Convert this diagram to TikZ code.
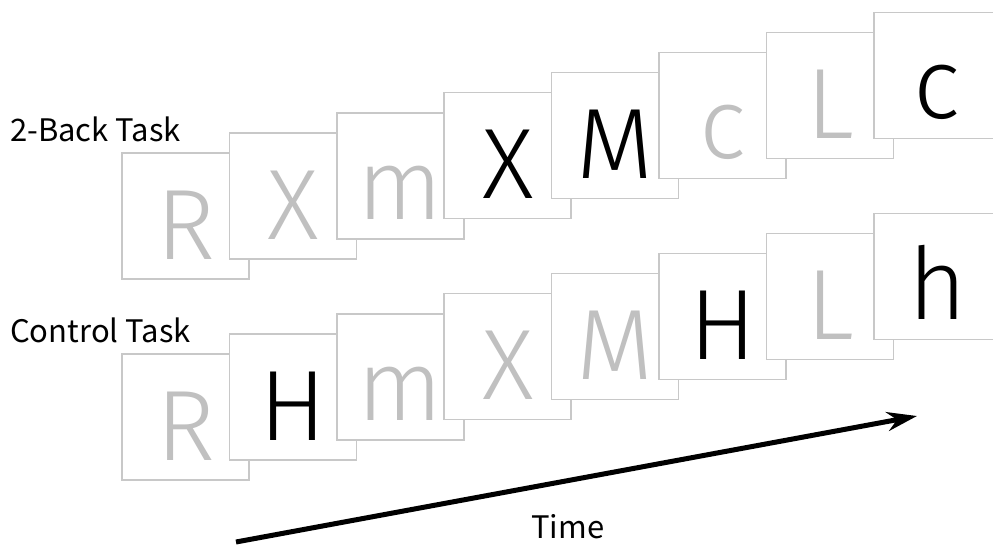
\documentclass[tikz,border=0pt]{standalone}
\usepackage{fontspec}
\setmainfont{Noto Sans CJK JP}
\IfFontExistsTF{Fira Sans Light}{\newfontfamily\thinfont{Fira Sans Light}}{%
  \IfFontExistsTF{Lato Light}{\newfontfamily\thinfont{Lato Light}}{%
    \IfFontExistsTF{Open Sans Light}{\newfontfamily\thinfont{Open Sans Light}}{%
      \newfontfamily\thinfont{Noto Sans CJK JP}}}}
\usetikzlibrary{arrows.meta}
\definecolor{boxgray}{RGB}{200,200,200}
\definecolor{lettergray}{RGB}{192,192,192}

\begin{document}
\begin{tikzpicture}[x=1pt, y=-1pt,
    card/.style={draw=boxgray, line width=1.5pt, fill=white, inner sep=0pt,
                 minimum width=127pt, minimum height=126pt},
    dim/.style={anchor=base, inner sep=0pt, text=lettergray, font=\thinfont\fontsize{100}{100}\selectfont},
    hit/.style={anchor=base, inner sep=0pt, text=black, font=\thinfont\fontsize{100}{100}\selectfont},
    label/.style={anchor=base west, inner sep=0pt, font=\fontsize{31}{31}\selectfont}]
    \useasboundingbox (0,0) rectangle (993,544);
    % 2-back row
    \node[label] (back) at (10,141) {2-Back Task};
    \node[card] (t1) at (185.5,216.0) {};  \node[dim] (lt1) at ([yshift=-107pt]t1.north) {R};
    \node[card] (t2) at (292.9,195.9) {};  \node[dim] (lt2) at ([yshift=-107pt]t2.north) {X};
    \node[card] (t3) at (400.3,175.8) {};  \node[dim] (lt3) at ([yshift=-107pt]t3.north) {m};
    \node[card] (t4) at (507.7,155.7) {};  \node[hit] (lt4) at ([yshift=-107pt]t4.north) {X};
    \node[card] (t5) at (615.1,135.6) {};  \node[hit] (lt5) at ([yshift=-107pt]t5.north) {M};
    \node[card] (t6) at (722.5,115.5) {};  \node[dim] (lt6) at ([yshift=-107pt]t6.north) {c};
    \node[card] (t7) at (829.9,95.4) {};   \node[dim] (lt7) at ([yshift=-107pt]t7.north) {L};
    \node[card] (t8) at (937.3,75.3) {};   \node[hit] (lt8) at ([yshift=-107pt]t8.north) {c};
    % control row
    \node[label] (ctrl) at (10,342) {Control Task};
    \node[card] (c1) at (185.5,417.0) {};  \node[dim] (lc1) at ([yshift=-107pt]c1.north) {R};
    \node[card] (c2) at (292.9,396.9) {};  \node[hit] (lc2) at ([yshift=-107pt]c2.north) {H};
    \node[card] (c3) at (400.3,376.8) {};  \node[dim] (lc3) at ([yshift=-107pt]c3.north) {m};
    \node[card] (c4) at (507.7,356.7) {};  \node[dim] (lc4) at ([yshift=-107pt]c4.north) {X};
    \node[card] (c5) at (615.1,336.6) {};  \node[dim] (lc5) at ([yshift=-107pt]c5.north) {M};
    \node[card] (c6) at (722.5,316.5) {};  \node[hit] (lc6) at ([yshift=-107pt]c6.north) {H};
    \node[card] (c7) at (829.9,296.4) {};  \node[dim] (lc7) at ([yshift=-107pt]c7.north) {L};
    \node[card] (c8) at (937.3,276.3) {};  \node[hit] (lc8) at ([yshift=-107pt]c8.north) {h};
    % time axis
    \coordinate (tail) at (236,542);
    \coordinate (head) at (917,416);
    \draw[line width=5pt, -{Stealth[length=30pt, width=19pt]}] (tail) -- (head);
    \node[label] (time) at (531,538) {Time};
\end{tikzpicture}
\end{document}
